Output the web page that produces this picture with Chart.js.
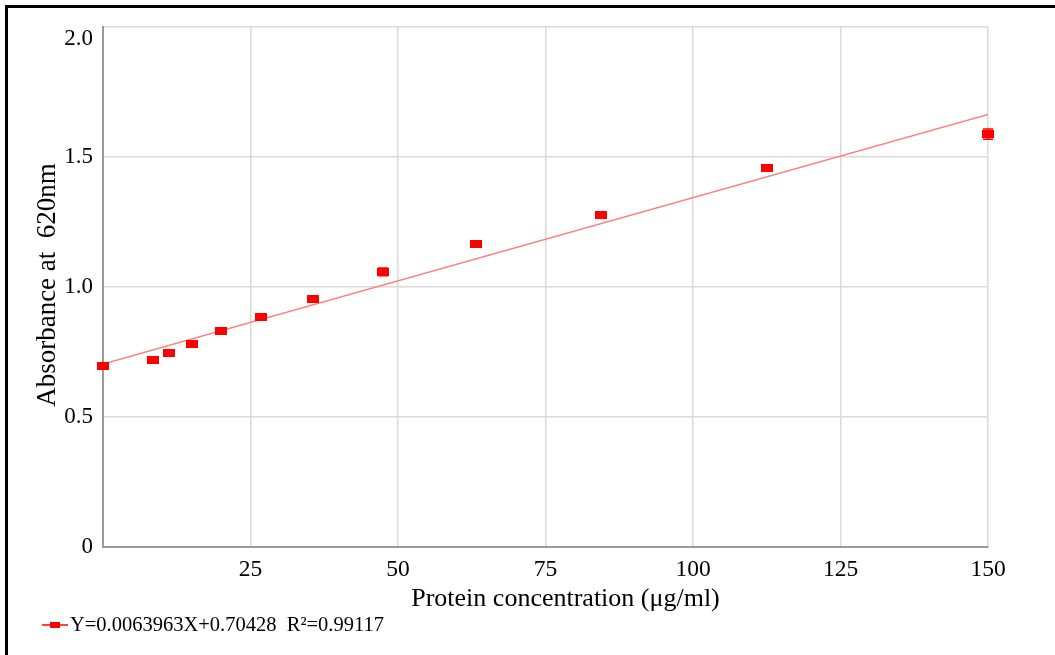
<!DOCTYPE html>
<html><head><meta charset="utf-8">
<script src="https://cdn.jsdelivr.net/npm/chart.js@4"></script>
<style>
html,body{margin:0;padding:0;background:#fff;}
#wrap{position:relative;width:1055px;height:655px;overflow:hidden;}
#frame{position:absolute;left:5px;top:5px;width:1060px;height:660px;border-left:3px solid #000;border-top:3px solid #000;pointer-events:none;}
canvas{position:absolute;left:0;top:0;}
</style></head>
<body><div id="wrap"><canvas id="c" width="1055" height="655"></canvas><div id="frame"></div></div>
<script>
const concentration = [0, 8.45, 11.26, 15.02, 20.02, 26.7, 35.6, 47.46, 63.28, 84.38, 112.5, 150];
const absorbance = [0.696, 0.719, 0.746, 0.781, 0.831, 0.885, 0.954, 1.058, 1.165, 1.277, 1.458, 1.588];
const errors = [0, 0, 0, 0, 0, 0, 0, 0.015, 0, 0, 0.01, 0.02];
const fitX = [0, 150];
const fitY = [0.704, 1.664];
const legendText = 'Y=0.0063963X+0.70428  R\u00B2=0.99117';
const xTitle = 'Protein concentration (\u03BCg/ml)';
const yTitle = 'Absorbance at  620nm';

const RED = '#ff0000';
const LINE = '#ff8080';
const SERIF = '"Liberation Serif", "Times New Roman", serif';

function makeMarker() {
  const c = document.createElement('canvas');
  c.width = 12; c.height = 8;
  const g = c.getContext('2d');
  g.fillStyle = RED; g.fillRect(0, 0, 12, 8);
  return c;
}
const marker = makeMarker();

const errorBars = {
  id: 'errorBars',
  afterDatasetsDraw(chart) {
    const ctx = chart.ctx, xs = chart.scales.x, ys = chart.scales.y;
    ctx.save();
    ctx.strokeStyle = RED; ctx.lineWidth = 1.5;
    errors.forEach((e, i) => {
      if (!e) return;
      const x = xs.getPixelForValue(concentration[i]);
      const y1 = ys.getPixelForValue(absorbance[i] - e);
      const y2 = ys.getPixelForValue(absorbance[i] + e);
      ctx.beginPath();
      ctx.moveTo(x, y1); ctx.lineTo(x, y2);
      ctx.moveTo(x - 5, y1); ctx.lineTo(x + 5, y1);
      ctx.moveTo(x - 5, y2); ctx.lineTo(x + 5, y2);
      ctx.stroke();
    });
    ctx.restore();
  }
};

const titlesAndLegend = {
  id: 'titlesAndLegend',
  afterDraw(chart) {
    const ctx = chart.ctx, a = chart.chartArea;
    ctx.save();
    ctx.fillStyle = '#000';
    // x axis title
    ctx.font = '26px ' + SERIF;
    ctx.textAlign = 'center';
    ctx.textBaseline = 'middle';
    ctx.fillText(xTitle, (a.left + a.right) / 2 + 20, a.bottom + 52);
    // y axis title
    ctx.save();
    ctx.translate(48, (a.top + a.bottom) / 2 - 2);
    ctx.rotate(-Math.PI / 2);
    ctx.font = '27px ' + SERIF;
    ctx.fillText(yTitle, 0, 0);
    ctx.restore();
    // legend
    const ly = 625;
    ctx.strokeStyle = RED; ctx.lineWidth = 1.5;
    ctx.beginPath(); ctx.moveTo(42, ly); ctx.lineTo(68, ly); ctx.stroke();
    ctx.fillStyle = RED; ctx.fillRect(50, ly - 3, 10, 6);
    ctx.fillStyle = '#000';
    ctx.font = '20.5px ' + SERIF;
    ctx.textAlign = 'left';
    ctx.fillText(legendText, 70, ly + 1);
    ctx.restore();
  }
};

Chart.defaults.font.family = SERIF;
Chart.defaults.color = '#000';

new Chart(document.getElementById('c'), {
  type: 'scatter',
  data: {
    datasets: [
      {
        label: 'data',
        data: concentration.map((x, i) => ({ x, y: absorbance[i] })),
        pointStyle: marker,
        backgroundColor: RED,
        borderColor: RED,
        showLine: false,
        clip: false
      },
      {
        label: 'fit',
        data: fitX.map((x, i) => ({ x, y: fitY[i] })),
        showLine: true,
        pointRadius: 0,
        borderColor: LINE,
        borderWidth: 1.5,
        fill: false
      }
    ]
  },
  options: {
    responsive: false,
    animation: false,
    devicePixelRatio: 1,
    layout: { padding: { top: 27, right: 67, left: 0, bottom: 58 } },
    plugins: {
      tooltip: { enabled: false },
      legend: { display: false }
    },
    scales: {
      x: {
        type: 'linear',
        min: 0, max: 150,
        afterFit: s => { s.height = 50; },
        ticks: {
          stepSize: 25,
          padding: 9,
          font: { family: SERIF, size: 23.5 },
          color: '#000',
          callback: v => (v === 0 ? '' : String(v))
        },
        grid: { color: '#dadada', lineWidth: 1.5, drawTicks: false },
        border: { color: '#9a9a9a', width: 2 }
      },
      y: {
        min: 0, max: 2,
        afterFit: s => { s.width = 103; s.paddingTop = 0; s.paddingBottom = 0; },
        ticks: {
          stepSize: 0.5,
          padding: 10,
          font: { family: SERIF, size: 23, lineHeight: 1.0 },
          color: '#000',
          callback: v => (v === 0 ? '0' : (v === 2 ? ['', v.toFixed(1)] : v.toFixed(1)))
        },
        grid: { color: '#dadada', lineWidth: 1.5, drawTicks: false },
        border: { color: '#9a9a9a', width: 2 }
      }
    }
  },
  plugins: [errorBars, titlesAndLegend]
});
</script>
</body></html>
